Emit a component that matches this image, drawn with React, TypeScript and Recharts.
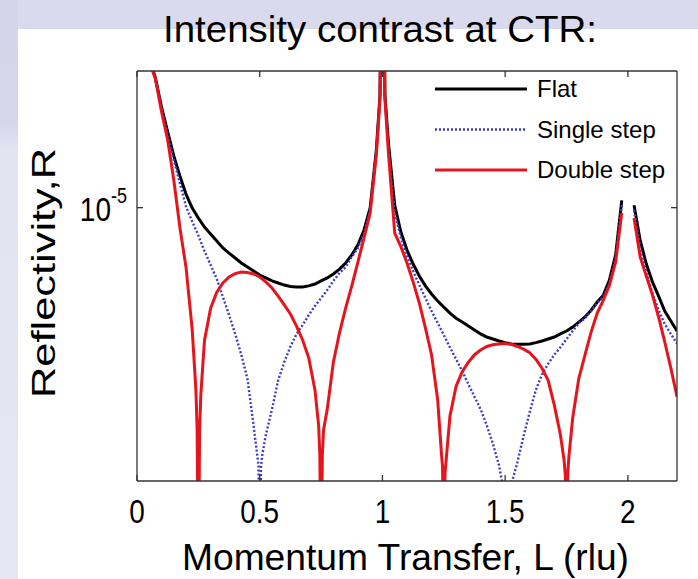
import React from "react";
import { LineChart, Line, XAxis, YAxis, Legend } from "recharts";

// reflectivity curves: [L (rlu), R]
const flat: [number, number | null][] = [
  [0, 1.6e-4], [0.025, 7.6e-5], [0.05, 5.8e-5], [0.075, 4.61e-5], [0.1, 3.27e-5],
  [0.125, 2.44e-5], [0.15, 1.84e-5], [0.175, 1.45e-5], [0.2, 1.17e-5], [0.225, 9.96e-6],
  [0.25, 8.85e-6], [0.275, 7.96e-6], [0.3, 7.33e-6], [0.325, 6.75e-6], [0.35, 6.22e-6],
  [0.375, 5.86e-6], [0.4, 5.53e-6], [0.425, 5.21e-6], [0.45, 4.97e-6], [0.475, 4.74e-6],
  [0.5, 4.52e-6], [0.525, 4.37e-6], [0.55, 4.22e-6], [0.575, 4.12e-6], [0.6, 4.02e-6],
  [0.625, 3.95e-6], [0.65, 3.93e-6], [0.675, 3.93e-6], [0.7, 3.98e-6], [0.725, 4.07e-6],
  [0.75, 4.22e-6], [0.775, 4.37e-6], [0.8, 4.58e-6], [0.825, 4.85e-6], [0.85, 5.21e-6],
  [0.875, 5.73e-6], [0.9, 6.45e-6], [0.925, 7.69e-6], [0.95, 1.0e-5], [0.975, 1.97e-5],
  [0.99, 3.77e-5], [1, 1e-3], [1.01, 3.77e-5], [1.025, 2.1e-5], [1.05, 1.03e-5],
  [1.075, 7.5e-6], [1.1, 6.07e-6], [1.125, 5.15e-6], [1.15, 4.47e-6], [1.175, 3.98e-6],
  [1.2, 3.62e-6], [1.225, 3.33e-6], [1.25, 3.1e-6], [1.275, 2.89e-6], [1.3, 2.72e-6],
  [1.325, 2.6e-6], [1.35, 2.48e-6], [1.375, 2.37e-6], [1.4, 2.26e-6], [1.425, 2.18e-6],
  [1.45, 2.13e-6], [1.475, 2.08e-6], [1.5, 2.04e-6], [1.525, 2.01e-6], [1.55, 2.0e-6],
  [1.575, 2.0e-6], [1.6, 2.01e-6], [1.625, 2.04e-6], [1.65, 2.08e-6], [1.675, 2.13e-6],
  [1.7, 2.18e-6], [1.725, 2.26e-6], [1.75, 2.34e-6], [1.775, 2.45e-6], [1.8, 2.6e-6],
  [1.825, 2.76e-6], [1.85, 2.99e-6], [1.875, 3.29e-6], [1.9, 3.57e-6], [1.925, 4.27e-6],
  [1.95, 5.73e-6], [1.975, 1.09e-5], [2, null], [2.025, 1.03e-5], [2.05, 6.8e-6],
  [2.075, 5.15e-6], [2.1, 4.17e-6], [2.125, 3.53e-6], [2.15, 2.96e-6], [2.175, 2.63e-6],
  [2.2, 2.34e-6],
];

const singleStep: [number, number | null][] = [
  [0, 1.55e-4], [0.025, 7.4e-5], [0.05, 5.7e-5], [0.075, 4.58e-5], [0.1, 3.23e-5],
  [0.125, 2.37e-5], [0.15, 1.75e-5], [0.175, 1.33e-5], [0.2, 1.01e-5], [0.225, 8.5e-6],
  [0.25, 7.2e-6], [0.275, 6.0e-6], [0.3, 5.09e-6], [0.325, 4.32e-6], [0.35, 3.49e-6],
  [0.375, 2.83e-6], [0.4, 2.26e-6], [0.425, 1.77e-6], [0.45, 1.33e-6], [0.475, 7.7e-7],
  [0.49, 5.4e-7], [0.495, 4.8e-7], [0.5, 1e-7], [0.505, 4.7e-7], [0.51, 5.4e-7],
  [0.525, 6.9e-7], [0.55, 9.3e-7], [0.575, 1.31e-6], [0.6, 1.62e-6], [0.625, 1.95e-6],
  [0.65, 2.26e-6], [0.675, 2.51e-6], [0.7, 2.83e-6], [0.725, 3.14e-6], [0.75, 3.45e-6],
  [0.775, 3.79e-6], [0.8, 4.22e-6], [0.825, 4.63e-6], [0.85, 4.97e-6], [0.875, 5.6e-6],
  [0.9, 6.2e-6], [0.925, 7.4e-6], [0.95, 9.8e-6], [0.975, 1.93e-5], [0.99, 3.7e-5],
  [1, 1e-3], [1.01, 3.7e-5], [1.025, 1.97e-5], [1.05, 9.5e-6], [1.075, 7.0e-6],
  [1.1, 5.66e-6], [1.125, 4.74e-6], [1.15, 4.02e-6], [1.175, 3.45e-6], [1.2, 2.96e-6],
  [1.225, 2.57e-6], [1.25, 2.23e-6], [1.275, 1.93e-6], [1.3, 1.68e-6], [1.325, 1.46e-6],
  [1.35, 1.25e-6], [1.375, 1.08e-6], [1.4, 9.3e-7], [1.425, 7.7e-7], [1.45, 6.2e-7],
  [1.475, 4.8e-7], [1.49, 3.8e-7], [1.5, 1e-7], [1.51, 3.1e-7], [1.525, 3.85e-7],
  [1.55, 5.0e-7], [1.575, 6.8e-7], [1.6, 9.0e-7], [1.625, 1.17e-6], [1.65, 1.4e-6],
  [1.675, 1.59e-6], [1.7, 1.77e-6], [1.725, 1.93e-6], [1.75, 2.13e-6], [1.775, 2.34e-6],
  [1.8, 2.57e-6], [1.825, 2.72e-6], [1.85, 2.96e-6], [1.875, 3.26e-6], [1.9, 3.49e-6],
  [1.925, 4.12e-6], [1.95, 5.53e-6], [1.975, 1.03e-5], [2, null], [2.025, 9.7e-6],
  [2.05, 6.3e-6], [2.075, 4.63e-6], [2.1, 3.66e-6], [2.125, 2.99e-6], [2.15, 2.54e-6],
  [2.175, 2.26e-6], [2.2, 2.02e-6],
];

const doubleStep: [number, number | null][] = [
  [0, 1.5e-4], [0.025, 7.2e-5], [0.05, 5.6e-5], [0.075, 4.55e-5], [0.1, 3.1e-5],
  [0.125, 2.22e-5], [0.15, 1.38e-5], [0.175, 7.87e-6], [0.2, 4.92e-6], [0.225, 2.37e-6],
  [0.24, 1.17e-6], [0.245, 7.3e-7], [0.25, 1e-7], [0.255, 7.3e-7], [0.26, 1.1e-6],
  [0.275, 2.1e-6], [0.3, 3.06e-6], [0.325, 3.7e-6], [0.35, 4.12e-6], [0.375, 4.42e-6],
  [0.4, 4.6e-6], [0.425, 4.69e-6], [0.45, 4.66e-6], [0.475, 4.58e-6], [0.5, 4.42e-6],
  [0.525, 4.17e-6], [0.55, 3.88e-6], [0.575, 3.53e-6], [0.6, 3.18e-6], [0.625, 2.86e-6],
  [0.65, 2.48e-6], [0.675, 2.1e-6], [0.7, 1.7e-6], [0.725, 1.17e-6], [0.74, 7.7e-7],
  [0.745, 5.4e-7], [0.75, 1e-7], [0.755, 5.4e-7], [0.76, 7.3e-7], [0.775, 9.3e-7],
  [0.8, 1.62e-6], [0.825, 2.29e-6], [0.85, 3.06e-6], [0.875, 3.98e-6], [0.9, 5.27e-6],
  [0.925, 7.0e-6], [0.95, 9.4e-6], [0.975, 1.86e-5], [0.99, 3.6e-5], [1, 1e-3],
  [1.01, 3.6e-5], [1.025, 1.86e-5], [1.05, 7.4e-6], [1.075, 6.32e-6], [1.1, 5.21e-6],
  [1.125, 4.17e-6], [1.15, 3.26e-6], [1.175, 2.43e-6], [1.2, 1.77e-6], [1.225, 1.04e-6],
  [1.24, 5.6e-7], [1.245, 4.7e-7], [1.25, 1e-7], [1.255, 4.4e-7], [1.26, 5.2e-7],
  [1.275, 8.6e-7], [1.3, 1.22e-6], [1.325, 1.45e-6], [1.35, 1.62e-6], [1.375, 1.77e-6],
  [1.4, 1.87e-6], [1.425, 1.95e-6], [1.45, 1.99e-6], [1.475, 2.01e-6], [1.5, 2.02e-6],
  [1.525, 2.0e-6], [1.55, 1.95e-6], [1.575, 1.89e-6], [1.6, 1.81e-6], [1.625, 1.68e-6],
  [1.65, 1.51e-6], [1.675, 1.31e-6], [1.7, 9.8e-7], [1.725, 6.9e-7], [1.74, 5.1e-7],
  [1.745, 4.3e-7], [1.75, 1e-7], [1.755, 4.4e-7], [1.76, 5.4e-7], [1.775, 8.4e-7],
  [1.8, 1.34e-6], [1.825, 1.76e-6], [1.85, 2.31e-6], [1.875, 2.89e-6], [1.9, 3.37e-6],
  [1.925, 4.02e-6], [1.95, 5.27e-6], [1.975, 9.4e-6], [2, null], [2.025, 8.85e-6],
  [2.05, 5.6e-6], [2.075, 4.47e-6], [2.1, 3.57e-6], [2.125, 2.76e-6], [2.15, 2.06e-6],
  [2.175, 1.51e-6], [2.2, 1.08e-6],
];

const seriesNames = ["Flat", "Single step", "Double step"];
const xTicks = [0, 0.5, 1, 1.5, 2];
const yTicks = [1e-5];

const W = 698;
const H = 579;
const FONT = '"Liberation Sans", Arial, Helvetica, sans-serif';
const AXIS = "#333";

const toRows = (pts: [number, number | null][]) => pts.map(([L, R]) => ({ L, R }));

const XTick = (props: any) => {
  const { x, y, payload } = props;
  return (
    <g transform={`translate(${x},${y + 24}) scale(1,1.18)`}>
      <text textAnchor="middle" fontSize={28} fontFamily={FONT} fill="#000">
        {String(payload.value)}
      </text>
    </g>
  );
};

const YTick = (props: any) => {
  const { x, y } = props;
  return (
    <g transform={`translate(${x},${y + 13}) scale(1,1.2)`}>
      <text textAnchor="end" fontSize={28} fontFamily={FONT} fill="#000">
        10
        <tspan fontSize={18} dy={-15}>
          -5
        </tspan>
      </text>
    </g>
  );
};

const NoTick = () => <g />;

const renderLegend = (props: any) => {
  const payload = [...(props.payload || [])].sort(
    (a: any, b: any) => seriesNames.indexOf(a.value) - seriesNames.indexOf(b.value)
  );
  return (
    <svg width={250} height={125} style={{ overflow: "visible" }}>
      {payload.map((entry: any, i: number) => (
        <g key={entry.value} transform={`translate(0,${i * 40.5})`}>
          <line
            x1={5}
            x2={97}
            y1={17}
            y2={17}
            stroke={entry.color}
            strokeWidth={entry.payload?.strokeWidth ?? 3}
            strokeDasharray={entry.payload?.strokeDasharray}
          />
          <text x={107} y={25} fontSize={24} fontFamily={FONT} fill="#000">
            {entry.value}
          </text>
        </g>
      ))}
    </svg>
  );
};

export default function App() {
  return (
    <div
      style={{
        position: "absolute",
        left: 0,
        top: 0,
        width: W,
        height: H,
        overflow: "hidden",
        background: "#dadaee",
      }}
    >
      {/* left strip of the slide background */}
      <div
        style={{
          position: "absolute",
          left: 0,
          top: 0,
          width: 18,
          height: H,
          background: "linear-gradient(to bottom, #d4d4ea 0%, #d6d6eb 21%, #e3e3f1 26%, #e7e7f3 100%)",
        }}
      />
      {/* white picture panel */}
      <div style={{ position: "absolute", left: 18, top: 29, right: 0, bottom: 0, background: "#fff" }} />

      <div style={{ position: "absolute", left: 0, top: 0 }}>
        <LineChart width={W} height={H} margin={{ top: 0, right: 0, bottom: 0, left: 0 }}>
          <XAxis
            xAxisId="b"
            type="number"
            dataKey="L"
            domain={[0, 2.2]}
            ticks={xTicks}
            interval={0}
            allowDataOverflow
            orientation="bottom"
            height={98}
            tickSize={-6}
            tickMargin={24}
            tick={<XTick />}
            stroke={AXIS}
            strokeWidth={1.3}
          />
          <XAxis
            xAxisId="t"
            type="number"
            dataKey="L"
            domain={[0, 2.2]}
            ticks={xTicks}
            interval={0}
            allowDataOverflow
            orientation="top"
            height={71}
            tickSize={-6}
            tick={<NoTick />}
            stroke={AXIS}
            strokeWidth={1.3}
          />
          <YAxis
            yAxisId="l"
            type="number"
            scale="log"
            domain={[4e-7, 5e-5]}
            allowDataOverflow
            ticks={yTicks}
            interval={0}
            width={137}
            tickSize={-6}
            tickMargin={16}
            tick={<YTick />}
            stroke={AXIS}
            strokeWidth={1.3}
          />
          <YAxis
            yAxisId="r"
            orientation="right"
            type="number"
            scale="log"
            domain={[4e-7, 5e-5]}
            allowDataOverflow
            ticks={yTicks}
            interval={0}
            width={21}
            tickSize={-6}
            tick={<NoTick />}
            stroke={AXIS}
            strokeWidth={1.3}
          />
          <Legend
            layout="vertical"
            align="center"
            verticalAlign="middle"
            content={renderLegend}
            wrapperStyle={{ left: 430, top: 72, width: 250, height: 125 }}
          />
          <Line
            xAxisId="b"
            yAxisId="l"
            data={toRows(flat)}
            dataKey="R"
            name={seriesNames[0]}
            type="linear"
            stroke="#000"
            strokeWidth={3}
            dot={false}
            isAnimationActive={false}
          />
          <Line
            xAxisId="b"
            yAxisId="l"
            data={toRows(singleStep)}
            dataKey="R"
            name={seriesNames[1]}
            type="linear"
            stroke="#3c3cc8"
            strokeWidth={2.4}
            strokeDasharray="2 2"
            dot={false}
            isAnimationActive={false}
          />
          <Line
            xAxisId="b"
            yAxisId="l"
            data={toRows(doubleStep)}
            dataKey="R"
            name={seriesNames[2]}
            type="linear"
            stroke="#e6151d"
            strokeWidth={3}
            dot={false}
            isAnimationActive={false}
          />
        </LineChart>
      </div>

      {/* title and axis labels */}
      <svg
        width={W}
        height={H}
        style={{ position: "absolute", left: 0, top: 0, pointerEvents: "none" }}
      >
        <text x={163} y={42} fontSize={37} fontFamily={FONT} fill="#000" textLength={434} lengthAdjust="spacingAndGlyphs">
          Intensity contrast at CTR:
        </text>
        <text x={182} y={570} fontSize={36} fontFamily={FONT} fill="#000" textLength={447} lengthAdjust="spacingAndGlyphs">
          Momentum Transfer, L (rlu)
        </text>
        <text
          transform="translate(55,273) rotate(-90)"
          textAnchor="middle"
          fontSize={33}
          fontFamily={FONT}
          fill="#000"
          textLength={250}
          lengthAdjust="spacingAndGlyphs"
        >
          Reflectivity,R
        </text>
      </svg>
    </div>
  );
}
